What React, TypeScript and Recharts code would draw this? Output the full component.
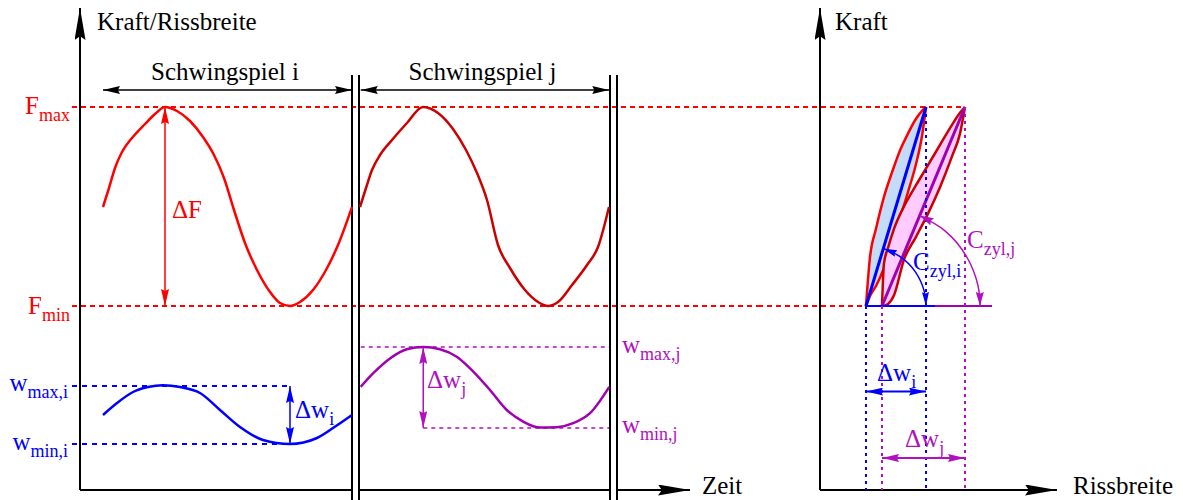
import React from 'react';
import { ComposedChart, Line, Area, XAxis, YAxis, ReferenceDot } from 'recharts';

const SERIF = '"Liberation Serif", "Times New Roman", serif';
const BLACK = '#000000';
const RED = '#ff0000';
const DARK_RED = '#cc0000';
const BLUE = '#0000ff';
const PURPLE = '#a000b0';
const MAGENTA = '#b010c0';

// levels on the shared Kraft/Rissbreite scale
const F_MAX = 95.75;
const F_MIN = 46;
const W_MAX_I = 26;
const W_MIN_I = 11.5;
const W_MAX_J = 35.75;
const W_MIN_J = 15.5;

// time positions (left panel)
const T_START_I = 9.2;
const T_END_I = 108.8;
const T_START_J = 112.3;
const T_END_J = 211.7;
const T_PEAK_I = 34;
const T_TROUGH_I = 84;
const T_PEAK_J = 137.3;
const BREAKS = [108.8, 111.6, 212, 214.8];

// [t, level]
const forceI = [
  [9.2, 70.75], [11.6, 75.5], [14, 80.5], [16.8, 84.5], [20.8, 88], [26, 91.5],
  [30, 94], [34, 95.75], [38.8, 94.75], [44, 92.25], [49.2, 88.25], [53.6, 83.75],
  [57.6, 78], [61.6, 70], [66, 61.75], [70.8, 55], [76, 49.5], [80, 46.75],
  [84, 46], [88, 47], [93.2, 50], [98.4, 55], [103.2, 61.25], [108.8, 70.75],
];
const forceJ = [
  [112, 70.75], [114.4, 75.5], [116.8, 80], [120, 83.75], [124.8, 87.5], [130.8, 91.75],
  [137.2, 95.75], [143.2, 94.25], [149.2, 90.25], [154.4, 85], [158.8, 79.25], [162.8, 72.5],
  [167.2, 61.25], [172, 55.5], [178, 50], [183.2, 47], [187.2, 46], [191.2, 47],
  [196.8, 51.25], [202.8, 56.25], [207.2, 60.75], [211.6, 70.75],
];
const crackI = [
  [9.2, 18.75], [14.8, 21.75], [21.2, 24.5], [27.2, 25.75], [33.2, 26.2], [40, 25.75],
  [48, 24.25], [56, 20], [64, 15.75], [73.2, 12.5], [84, 11.5], [94.8, 13],
  [101.2, 15.5], [108.8, 18.75],
];
const crackJ = [
  [112.3, 25.8], [117.3, 29.2], [124, 32.9], [130.7, 35.2], [137.3, 35.75], [144, 35.2],
  [150.7, 33.3], [157.3, 29.6], [164, 25], [170.7, 20], [177.3, 17.1], [184, 15.6],
  [190.7, 15.7], [197.3, 16.7], [204, 19.2], [211.7, 25.8],
];

// right panel: hysteresis loops [w, lower force, upper force]
const loopI = [
  [11.5, 46, 46], [12.5, 48.5, 58.2], [14, 51, 65.3], [16, 55.5, 73.3], [18, 61.5, 79.4],
  [20, 68, 84.9], [22, 74.5, 89.1], [24, 81.5, 92.8], [25.5, 88.5, 94.8], [26.5, 95.75, 95.75],
];
const loopJ = [
  [15.5, 46, 46], [16, 46.1, 56.7], [17, 46.5, 60.5], [18.5, 48.7, 65.3], [21, 57.6, 70.9],
  [24, 63.3, 76.2], [27, 69.1, 81.2], [30, 75.7, 86.3], [33, 83.4, 91.3], [35, 89.1, 94.3],
  [36.25, 95.75, 95.75],
];
const W_TOP_I = 26.5;
const W_TOP_J = 36.25;
const arcI = [[15.8, 60.4], [20.1, 58.3], [23.8, 54.6], [26, 49.9], [26.5, 46]];
const arcJ = [[24.9, 68.6], [31.25, 64.8], [36.7, 58.25], [39.5, 51.1], [40, 46]];

function ArrowDefs() {
  const heads = [
    { id: 'k', color: BLACK, l: 17, h: 4 },
    { id: 'r', color: RED, l: 17, h: 4 },
    { id: 'b', color: BLUE, l: 17, h: 4 },
    { id: 'p', color: PURPLE, l: 17, h: 4 },
    { id: 'm', color: MAGENTA, l: 17, h: 4 },
    { id: 'ax', color: BLACK, l: 32, h: 5.5 },
    { id: 'ab', color: BLUE, l: 14, h: 3.5 },
    { id: 'am', color: MAGENTA, l: 14, h: 4 },
  ];
  return (
    <svg width={0} height={0} style={{ position: 'absolute' }}>
      <defs>
        {heads.map(({ id, color, l, h }) => (
          <React.Fragment key={id}>
            <marker id={`${id}-e`} markerUnits="userSpaceOnUse" markerWidth={l} markerHeight={2 * h}
              viewBox={`0 ${-h} ${l} ${2 * h}`} refX={l} refY={0} orient="auto">
              <path d={`M0,${-h} L${l},0 L0,${h} L${l * 0.12},0 Z`} fill={color} />
            </marker>
            <marker id={`${id}-s`} markerUnits="userSpaceOnUse" markerWidth={l} markerHeight={2 * h}
              viewBox={`0 ${-h} ${l} ${2 * h}`} refX={0} refY={0} orient="auto">
              <path d={`M${l},${-h} L0,0 L${l},${h} L${l * 0.88},0 Z`} fill={color} />
            </marker>
          </React.Fragment>
        ))}
      </defs>
    </svg>
  );
}

function seg(id: string, xKey: string, points: number[][], stroke: string, width: number, extra: Record<string, unknown> = {}) {
  return (
    <Line
      key={id}
      data={points.map(([x, v]) => ({ [xKey]: x, v }))}
      dataKey="v"
      type="linear"
      stroke={stroke}
      strokeWidth={width}
      dot={false}
      activeDot={false}
      legendType="none"
      isAnimationActive={false}
      {...extra}
    />
  );
}

function label(id: string, x: number, y: number, main: string, sub: string, color: string, anchor = 'start') {
  return (
    <ReferenceDot
      key={id}
      x={x}
      y={y}
      r={0}
      ifOverflow="visible"
      shape={(p: any) => (
        <text x={p.cx} y={p.cy} fill={color} fontSize={25} fontFamily={SERIF} textAnchor={anchor}>
          {main}
          {sub ? <tspan fontSize={18} dy={7}>{sub}</tspan> : null}
        </text>
      )}
    />
  );
}

const both = (m: string) => ({ markerStart: `url(#${m}-s)`, markerEnd: `url(#${m}-e)` });

export default function App() {
  return (
    <div style={{ position: 'absolute', left: 0, top: 0, width: 1183, height: 500, background: '#fff', overflow: 'hidden' }}>
      <ArrowDefs />
      <div style={{ position: 'absolute', left: 0, top: 0 }}>
        <ComposedChart width={760} height={500} margin={{ top: 0, right: 0, bottom: 0, left: 0 }}>
          <XAxis type="number" dataKey="t" domain={[-32, 272]} hide allowDataOverflow />
          <YAxis type="number" domain={[-2.5, 122.5]} hide allowDataOverflow />

          {seg('fmax', 't', [[-3.2, F_MAX], [272, F_MAX]], RED, 2, { strokeDasharray: '5 4' })}
          {seg('fmin', 't', [[-3.2, F_MIN], [272, F_MIN]], RED, 2, { strokeDasharray: '5 4' })}
          {seg('wmaxi', 't', [[-3.2, W_MAX_I], [T_TROUGH_I, W_MAX_I]], BLUE, 2, { strokeDasharray: '5 5' })}
          {seg('wmini', 't', [[-3.2, W_MIN_I], [T_TROUGH_I, W_MIN_I]], BLUE, 2, { strokeDasharray: '5 5' })}
          {seg('wmaxj', 't', [[T_START_J, W_MAX_J], [T_END_J, W_MAX_J]], MAGENTA, 1.5, { strokeDasharray: '4 4' })}
          {seg('wminj', 't', [[T_PEAK_J, W_MIN_J], [T_END_J, W_MIN_J]], MAGENTA, 1.5, { strokeDasharray: '4 4' })}

          {seg('yax', 't', [[0, 0], [0, 120.5]], BLACK, 2, { markerEnd: 'url(#ax-e)' })}
          {seg('xax1', 't', [[0, 0], [BREAKS[0], 0]], BLACK, 2)}
          {seg('xax2', 't', [[BREAKS[1], 0], [BREAKS[2], 0]], BLACK, 2)}
          {seg('xax3', 't', [[BREAKS[3], 0], [244, 0]], BLACK, 2, { markerEnd: 'url(#ax-e)' })}
          {BREAKS.map((b, i) => seg(`br${i}`, 't', [[b, -2.5], [b, 103.75]], BLACK, 2))}

          {seg('cycI', 't', [[T_START_I, 100], [T_END_I, 100]], BLACK, 1.5, both('k'))}
          {seg('cycJ', 't', [[T_START_J, 100], [T_END_J, 100]], BLACK, 1.5, both('k'))}

          {seg('forceI', 't', forceI, RED, 2.5, { type: 'monotone' })}
          {seg('forceJ', 't', forceJ, DARK_RED, 2.5, { type: 'monotone' })}
          {seg('crackI', 't', crackI, BLUE, 2.5, { type: 'monotone' })}
          {seg('crackJ', 't', crackJ, PURPLE, 2.5, { type: 'monotone' })}

          {seg('dF', 't', [[T_PEAK_I, F_MIN], [T_PEAK_I, F_MAX]], RED, 1.5, both('r'))}
          {seg('dwi', 't', [[T_TROUGH_I, W_MIN_I], [T_TROUGH_I, W_MAX_I]], BLUE, 1.5, both('b'))}
          {seg('dwj', 't', [[T_PEAK_J, W_MIN_J], [T_PEAK_J, W_MAX_J]], MAGENTA, 1.5, both('m'))}

          {label('ylab', 6.8, 115, 'Kraft/Rissbreite', '', BLACK)}
          {label('zeit', 248.8, -1, 'Zeit', '', BLACK)}
          {label('spI', 58, 102.5, 'Schwingspiel i', '', BLACK, 'middle')}
          {label('spJ', 161, 102.5, 'Schwingspiel j', '', BLACK, 'middle')}
          {label('Fmax', -4, 94, 'F', 'max', RED, 'end')}
          {label('Fmin', -4, 44, 'F', 'min', RED, 'end')}
          {label('dFl', 36.8, 68, 'ΔF', '', RED)}
          {label('wmaxiL', -4.8, 24.75, 'w', 'max,i', BLUE, 'end')}
          {label('winiL', -4.8, 10, 'w', 'min,i', BLUE, 'end')}
          {label('dwiL', 86, 18, 'Δw', 'i', BLUE)}
          {label('dwjL', 138.8, 25.5, 'Δw', 'j', MAGENTA)}
          {label('wmaxjL', 216.8, 34.25, 'w', 'max,j', MAGENTA)}
          {label('wminjL', 216.8, 14.25, 'w', 'min,j', MAGENTA)}
        </ComposedChart>
      </div>

      <div style={{ position: 'absolute', left: 760, top: 0 }}>
        <ComposedChart width={423} height={500} margin={{ top: 0, right: 0, bottom: 0, left: 0 }}>
          <XAxis type="number" dataKey="w" domain={[-15, 90.75]} hide allowDataOverflow />
          <YAxis type="number" domain={[-2.5, 122.5]} hide allowDataOverflow />

          {seg('rfmax', 'w', [[-15, F_MAX], [W_TOP_J, F_MAX]], RED, 2, { strokeDasharray: '5 4', strokeDashoffset: 2 })}
          {seg('rfmin', 'w', [[-15, F_MIN], [W_MIN_I, F_MIN]], RED, 2, { strokeDasharray: '5 4', strokeDashoffset: 2 })}

          {seg('ryax', 'w', [[0, 0], [0, 120.5]], BLACK, 2, { markerEnd: 'url(#ax-e)' })}
          {seg('rxax', 'w', [[0, 0], [59.25, 0]], BLACK, 2, { markerEnd: 'url(#ax-e)' })}

          <Area
            data={loopI.map(([w, lo, hi]) => ({ w, r: [lo, hi] }))}
            dataKey="r"
            type="monotone"
            fill="#c4dcf7"
            fillOpacity={1}
            stroke={RED}
            strokeWidth={2.5}
            dot={false}
            activeDot={false}
            legendType="none"
            isAnimationActive={false}
          />
          <Area
            data={loopJ.map(([w, lo, hi]) => ({ w, r: [lo, hi] }))}
            dataKey="r"
            type="monotone"
            fill="#ffccff"
            fillOpacity={1}
            stroke={DARK_RED}
            strokeWidth={2.5}
            dot={false}
            activeDot={false}
            legendType="none"
            isAnimationActive={false}
          />
          {seg('diagI', 'w', [[W_MIN_I, F_MIN], [W_TOP_I, F_MAX]], BLUE, 3)}
          {seg('diagJ', 'w', [[W_MIN_J, F_MIN], [W_TOP_J, F_MAX]], PURPLE, 3)}

          {seg('baseI', 'w', [[W_MIN_I, F_MIN], [28.75, F_MIN]], BLUE, 2)}
          {seg('baseJ', 'w', [[28.75, F_MIN], [43, F_MIN]], PURPLE, 2)}

          {seg('vI0', 'w', [[W_MIN_I, F_MIN], [W_MIN_I, 0]], BLUE, 2, { strokeDasharray: '3 4' })}
          {seg('vI1', 'w', [[W_TOP_I, F_MAX], [W_TOP_I, 0]], BLUE, 2, { strokeDasharray: '3 4' })}
          {seg('vJ0', 'w', [[W_MIN_J, F_MIN], [W_MIN_J, 0]], MAGENTA, 2, { strokeDasharray: '3 4' })}
          {seg('vJ1', 'w', [[W_TOP_J, F_MAX], [W_TOP_J, 0]], MAGENTA, 2, { strokeDasharray: '3 4' })}

          {seg('arcI', 'w', arcI, BLUE, 1.5, { type: 'natural', ...both('ab') })}
          {seg('arcJ', 'w', arcJ, MAGENTA, 1.5, { type: 'natural', ...both('am') })}

          {seg('rdwi', 'w', [[W_MIN_I, 24.6], [W_TOP_I, 24.6]], BLUE, 2, both('b'))}
          {seg('rdwj', 'w', [[W_MIN_J, 8], [W_TOP_J, 8]], MAGENTA, 2, both('m'))}

          {label('kraft', 3.75, 115, 'Kraft', '', BLACK)}
          {label('riss', 63.25, -1, 'Rissbreite', '', BLACK)}
          {label('czi', 23.25, 55, 'C', 'zyl,i', BLUE)}
          {label('czj', 36.75, 60.5, 'C', 'zyl,j', MAGENTA)}
          {label('rdwiL', 14.25, 27.25, 'Δw', 'i', BLUE)}
          {label('rdwjL', 21.25, 10.75, 'Δw', 'j', MAGENTA)}
        </ComposedChart>
      </div>
    </div>
  );
}
